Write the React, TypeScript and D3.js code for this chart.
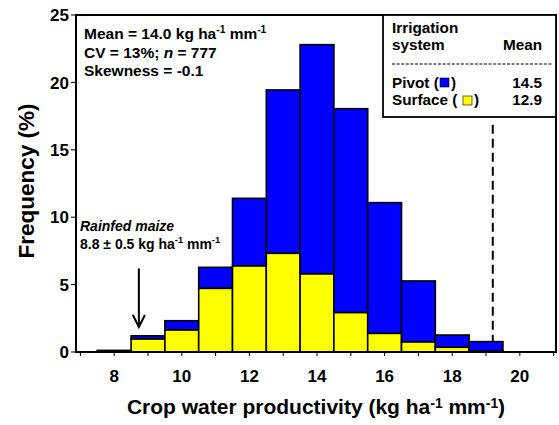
import React from 'react';
import * as d3 from 'd3';

// histogram bins (centres, kg ha-1 mm-1)
const bins = [8, 9, 10, 11, 12, 13, 14, 15, 16, 17, 18, 19];
// frequency (%) stacked: surface at bottom, pivot on top
const surface = [0.05, 0.96, 1.63, 4.72, 6.38, 7.32, 5.79, 2.92, 1.38, 0.74, 0.35, 0.06];
const pivot = [0.07, 0.24, 0.69, 1.56, 5.02, 12.12, 17.01, 15.13, 9.7, 4.53, 0.91, 0.71];
const xTicks = [8, 10, 12, 14, 16, 18, 20];
const xMinor = d3.range(7, 22);
const yTicks = [0, 5, 10, 15, 20, 25];

const W = 559;
const H = 425;
const FONT = 'Arial, "Liberation Sans", Helvetica, sans-serif';

const Sup = ({ children }: { children: string }) => (
  <tspan dy={-6} fontSize="0.66em">{children}</tspan>
);

export default function App() {
  const x = d3.scaleLinear().domain([6.87, 21.07]).range([76, 556]);
  const y = d3.scaleLinear().domain([0, 25]).range([352, 15]);
  const [x0, x1] = x.range();
  const [yb, yt] = y.range();

  const stacked = bins.map((b, i) => ({ b, s: surface[i], p: pivot[i] }));

  return (
    <svg
      width={W}
      height={H}
      style={{ position: 'absolute', left: 0, top: 0, background: '#fff' }}
      fontFamily={FONT}
      fontWeight="bold"
    >
      {/* bars */}
      {stacked.map(d => (
        <g key={d.b} stroke="#000" strokeWidth={1.6}>
          <rect
            x={x(d.b - 0.5)}
            y={y(d.s + d.p)}
            width={x(d.b + 0.5) - x(d.b - 0.5)}
            height={y(d.s) - y(d.s + d.p)}
            fill="#0000ff"
          />
          <rect
            x={x(d.b - 0.5)}
            y={y(d.s)}
            width={x(d.b + 0.5) - x(d.b - 0.5)}
            height={y(0) - y(d.s)}
            fill="#ffff00"
          />
        </g>
      ))}

      {/* dashed reference line */}
      <line
        x1={x(19.2)} x2={x(19.2)}
        y1={y(16.85)} y2={y(0.77)}
        stroke="#000" strokeWidth={2} strokeDasharray="9,5"
      />

      {/* frame */}
      <rect x={x0} y={yt} width={x1 - x0} height={yb - yt} fill="none" stroke="#000" strokeWidth={2} />

      {/* x ticks */}
      {xMinor.map(t => (
        <line key={t} x1={x(t)} x2={x(t)} y1={yb} y2={yb + 4} stroke="#000" strokeWidth={1} />
      ))}
      {xTicks.map(t => (
        <text key={t} x={x(t)} y={yb + 30} textAnchor="middle" fontSize={17}>{t}</text>
      ))}

      {/* y ticks */}
      {yTicks.map(t => (
        <g key={t}>
          <line x1={x0 - 5} x2={x0} y1={y(t)} y2={y(t)} stroke="#000" strokeWidth={1} />
          <text x={x0 - 7} y={y(t)} dy="0.36em" textAnchor="end" fontSize={17}>{t}</text>
        </g>
      ))}

      {/* axis titles */}
      <text x={316} y={414} textAnchor="middle" fontSize={21}>
        Crop water productivity (kg ha<Sup>-1</Sup><tspan dy={6}> mm</tspan><Sup>-1</Sup><tspan dy={6}>)</tspan>
      </text>
      <text
        transform={`translate(34,181) rotate(-90)`}
        textAnchor="middle"
        fontSize={22.5}
      >
        Frequency (%)
      </text>

      {/* stats text */}
      <g fontSize={15.5}>
        <text x={84} y={38.5}>
          Mean = 14.0 kg ha<Sup>-1</Sup><tspan dy={6}> mm</tspan><Sup>-1</Sup>
        </text>
        <text x={84} y={57.5}>
          CV = 13%; <tspan fontStyle="italic">n</tspan> = 777
        </text>
        <text x={84} y={76}>Skewness = -0.1</text>
      </g>

      {/* rainfed annotation */}
      <g fontSize={14}>
        <text x={80} y={231} fontStyle="italic">Rainfed maize</text>
        <text x={80} y={249}>
          8.8 ± 0.5 kg ha<Sup>-1</Sup><tspan dy={6}> mm</tspan><Sup>-1</Sup>
        </text>
      </g>
      <g stroke="#000" strokeWidth={2} fill="none">
        <line x1={x(8.73)} x2={x(8.73)} y1={y(6.2)} y2={y(1.85)} />
        <polyline
          points={`${x(8.73) - 6},${y(1.85) - 12} ${x(8.73)},${y(1.85)} ${x(8.73) + 6},${y(1.85) - 12}`}
        />
      </g>

      {/* legend table */}
      <g>
        <rect x={383} y={yt} width={x1 - 383} height={117 - yt} fill="#fff" stroke="#000" strokeWidth={1.8} />
        <g fontSize={15.3}>
          <text x={392} y={32.5}>Irrigation</text>
          <text x={392} y={50}>system</text>
          <text x={542} y={50} textAnchor="end">Mean</text>
          <line x1={392} x2={553} y1={64} y2={64} stroke="#000" strokeWidth={1.2} strokeDasharray="3,1.6" />
          <text x={392} y={87.5}>Pivot (</text>
          <rect x={440} y={78} width={9} height={9} fill="#0000ff" stroke="#000" strokeWidth={0.6} />
          <text x={451} y={87.5}>)</text>
          <text x={542} y={87.5} textAnchor="end">14.5</text>
          <text x={392} y={105}>Surface (</text>
          <rect x={463} y={96} width={9} height={9} fill="#ffff00" stroke="#000" strokeWidth={0.6} />
          <text x={474} y={105}>)</text>
          <text x={542} y={105} textAnchor="end">12.9</text>
        </g>
      </g>
    </svg>
  );
}
